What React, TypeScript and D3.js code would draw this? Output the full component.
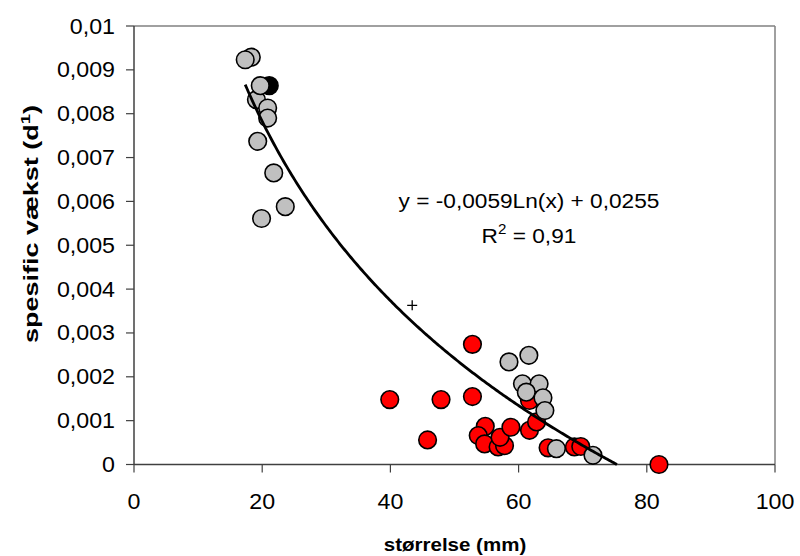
import React from "react";
import * as d3 from "d3";

const greyX = [18.3, 17.35, 19.1, 19.7, 20.85, 20.85, 19.3, 21.8, 23.6, 19.9, 58.5, 61.6, 60.6, 63.2, 61.2, 63.8, 64.1, 65.9, 71.6];
const greyY = [0.00929, 0.00923, 0.00832, 0.00864, 0.00813, 0.0079, 0.00737, 0.00665, 0.00588, 0.00561, 0.00234, 0.00249, 0.00184, 0.00184, 0.00165, 0.00152, 0.00123, 0.00036, 0.00021];
const redX = [52.8, 39.9, 47.9, 52.8, 45.8, 54.8, 53.7, 54.7, 56.8, 57.8, 57.1, 58.8, 61.7, 62.8, 61.7, 64.6, 68.7, 69.7, 81.9];
const redY = [0.00274, 0.00148, 0.00148, 0.00155, 0.00056, 0.00087, 0.00066, 0.00047, 0.0004, 0.00043, 0.00062, 0.00085, 0.00078, 0.00097, 0.00146, 0.00038, 0.0004, 0.00041, 0.0];
const blackX = [21.1];
const blackY = [0.00864];
const plusX = [43.4];
const plusY = [0.00363];
const xTicks = [0, 20, 40, 60, 80, 100];
const yTicks = [0, 0.001, 0.002, 0.003, 0.004, 0.005, 0.006, 0.007, 0.008, 0.009, 0.01];
const trendA = -0.0059;
const trendB = 0.0255;

const W = 800, H = 556;
const L = 134, R = 775, T = 26, B = 464.5;
const FONT = "Liberation Sans, Arial, sans-serif";
const SX = 1.08;

function Txt(props: { x: number; y: number; anchor?: string; size: number; bold?: boolean; children: React.ReactNode }) {
  return (
    <text
      transform={`translate(${props.x},${props.y}) scale(${SX},1)`}
      textAnchor={props.anchor || "start"}
      fontFamily={FONT}
      fontSize={props.size}
      fontWeight={props.bold ? "bold" : "normal"}
    >
      {props.children}
    </text>
  );
}

export default function App() {
  const x = d3.scaleLinear().domain([0, 100]).range([L, R]);
  const y = d3.scaleLinear().domain([0, 0.01]).range([B, T]);
  const fmtY = (v: number) => (v === 0 ? "0" : d3.format(".3~f")(v).replace(".", ","));
  const xMin = d3.min(greyX.concat(redX))!;
  const xZero = Math.exp(-trendB / trendA);
  const xs = d3.range(xMin, xZero, 0.25).concat([xZero]);
  const line = d3
    .line<number>()
    .x((d) => x(d))
    .y((d) => y(Math.max(0, trendA * Math.log(d) + trendB)));
  const r = 8.8;
  return (
    <svg width={W} height={H} style={{ position: "absolute", left: 0, top: 0, background: "#fff" }}>
      <line x1={L} x2={R} y1={T} y2={T} stroke="#808080" strokeWidth={1.5} />
      <line x1={R} x2={R} y1={T} y2={B} stroke="#808080" strokeWidth={1.5} />
      <line x1={L} x2={R} y1={B} y2={B} stroke="#404040" strokeWidth={1.5} />
      <line x1={L} x2={L} y1={T} y2={B} stroke="#404040" strokeWidth={1.5} />
      {yTicks.map((t) => (
        <g key={"y" + t}>
          <line x1={L - 8} x2={L} y1={y(t)} y2={y(t)} stroke="#404040" strokeWidth={1.2} />
          <Txt x={L - 19} y={y(t) + 7.5} anchor="end" size={21.5}>
            {fmtY(t)}
          </Txt>
        </g>
      ))}
      {xTicks.map((t) => (
        <g key={"x" + t}>
          <line x1={x(t)} x2={x(t)} y1={B} y2={B + 8} stroke="#404040" strokeWidth={1.2} />
          <Txt x={x(t)} y={509} anchor="middle" size={21.5}>
            {t}
          </Txt>
        </g>
      ))}
      {redX.map((v, i) => (
        <circle key={"r" + i} cx={x(v)} cy={y(redY[i])} r={r} fill="#FF0000" stroke="#000" strokeWidth={1.6} />
      ))}
      {blackX.map((v, i) => (
        <circle key={"b" + i} cx={x(v)} cy={y(blackY[i])} r={r} fill="#000" stroke="#000" strokeWidth={1.6} />
      ))}
      {greyX.map((v, i) => (
        <circle key={"g" + i} cx={x(v)} cy={y(greyY[i])} r={r} fill="#C0C0C0" stroke="#000" strokeWidth={1.6} />
      ))}
      {plusX.map((v, i) => (
        <path
          key={"p" + i}
          d={`M${x(v) - 5},${y(plusY[i])}H${x(v) + 5}M${x(v)},${y(plusY[i]) - 5}V${y(plusY[i]) + 5}`}
          stroke="#000"
          strokeWidth={1.3}
        />
      ))}
      <path d={line(xs) || ""} fill="none" stroke="#000" strokeWidth={2.8} />
      <Txt x={529} y={208} anchor="middle" size={21}>
        y = -0,0059Ln(x) + 0,0255
      </Txt>
      <Txt x={529} y={243} anchor="middle" size={21}>
        R<tspan dy={-9} fontSize={14}>2</tspan>
        <tspan dy={9}> = 0,91</tspan>
      </Txt>
      <Txt x={455} y={551} anchor="middle" size={19} bold>
        størrelse (mm)
      </Txt>
      <text
        transform={`translate(38,224) rotate(-90) scale(1.42,1.05)`}
        textAnchor="middle"
        fontFamily={FONT}
        fontSize={19}
        fontWeight="bold"
      >
        spesific vækst (d<tspan dy={-8} fontSize={13}>1</tspan>
        <tspan dy={8}>)</tspan>
      </text>
    </svg>
  );
}
